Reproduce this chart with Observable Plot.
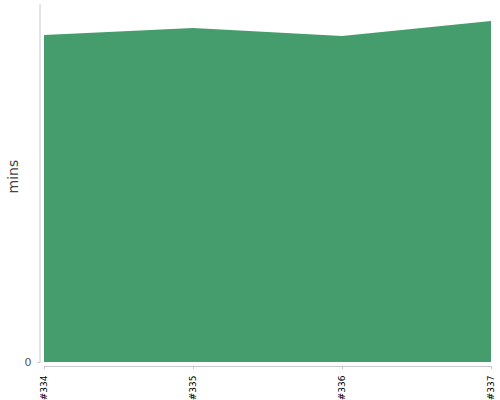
<!DOCTYPE html>
<html>
<head>
<meta charset="utf-8">
<script src="https://cdn.jsdelivr.net/npm/d3@7"></script>
<script src="https://cdn.jsdelivr.net/npm/@observablehq/plot@0.6"></script>
<style>
  html, body { margin: 0; padding: 0; background: #fff; }
  #chart svg { display: block; }
</style>
</head>
<body>
<div id="chart"></div>
<script>
const builds = ["#334", "#335", "#336", "#337"];
const mins = [32.7, 33.4, 32.6, 34.1];
const yTicks = [0];
const yMax = 35.8;

const data = builds.map((b, i) => ({build: b, mins: mins[i]}));

const chart = Plot.plot({
  width: 500,
  height: 400,
  marginTop: 4,
  marginBottom: 34,
  marginLeft: 40,
  marginRight: 9,
  style: {fontFamily: "DejaVu Sans, sans-serif", background: "#fff"},
  x: {type: "point", domain: builds, padding: 0, insetLeft: 3, insetRight: 0},
  y: {domain: [0, yMax], insetBottom: 4},
  marks: [
    Plot.areaY(data, {x: "build", y: "mins", fill: "#459c6d", curve: "linear"}),
    Plot.frame({anchor: "left", insetBottom: 4, stroke: "#c8c8c8", dx: -0.5}),
    Plot.ruleY([0], {x1: () => builds[0], x2: () => builds[builds.length - 1], dy: 4, stroke: "#c8c8c8"}),
    Plot.axisY({ticks: yTicks, tickSize: 3, stroke: "#c8c8c8", fill: "#555", fontSize: 11, label: null}),
    Plot.axisX({tickRotate: -90, tickSize: 3, stroke: "#c8c8c8", fill: "#000", fontSize: 9, label: null}),
    Plot.text(["mins"], {frameAnchor: "left", rotate: -90, dx: -27, dy: 8, fontSize: 14, fill: "#444"})
  ]
});
document.getElementById("chart").append(chart);
</script>
</body>
</html>
